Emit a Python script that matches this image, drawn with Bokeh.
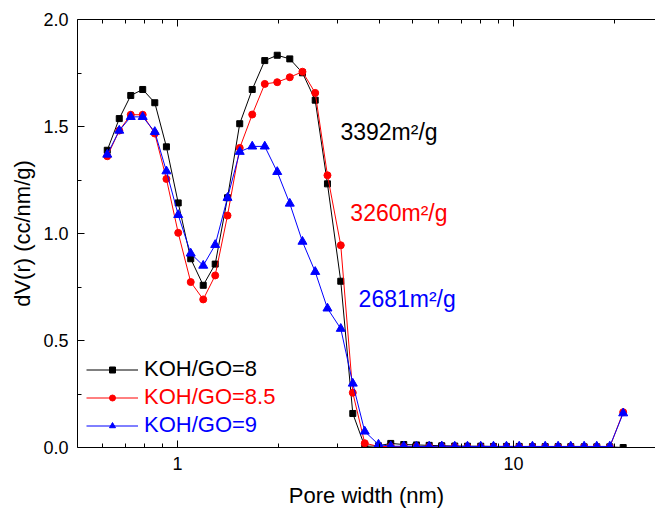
from bokeh.plotting import figure
from bokeh.models import (LogAxis, FixedTicker, Legend, LegendItem, Label,
                          NumeralTickFormatter, PrintfTickFormatter, ColumnDataSource)
from bokeh.embed import file_html
from bokeh.resources import INLINE

# ---------------- data ----------------
pore_width = [0.618, 0.671, 0.726, 0.788, 0.856, 0.927, 1.005, 1.095, 1.193, 1.295,
              1.409, 1.532, 1.669, 1.819, 1.981, 2.159, 2.355, 2.570, 2.795, 3.062,
              3.325, 3.609, 3.965, 4.313, 4.715, 5.144, 5.612, 6.118, 6.688, 7.297,
              7.991, 8.720, 9.532, 10.40, 11.39, 12.43, 13.58, 14.81, 16.23, 17.70,
              19.35, 21.21]

koh_8 = [1.389, 1.537, 1.645, 1.673, 1.611, 1.405, 1.143, 0.882, 0.758, 0.857,
         1.167, 1.513, 1.673, 1.808, 1.833, 1.816, 1.751, 1.623, 1.232, 0.777,
         0.159, 0.005, 0.008, 0.019, 0.014, 0.012, 0.010, 0.008, 0.007, 0.006,
         0.006, 0.005, 0.005, 0.005, 0.004, 0.004, 0.004, 0.004, 0.003, 0.003,
         0.003, 0.0]

koh_85 = [1.361, 1.481, 1.555, 1.555, 1.467, 1.255, 1.003, 0.773, 0.692, 0.804,
          1.084, 1.400, 1.556, 1.699, 1.707, 1.730, 1.756, 1.657, 1.272, 0.945,
          0.256, 0.020, 0.005, 0.004, 0.004, 0.003, 0.003, 0.003, 0.003, 0.002,
          0.002, 0.002, 0.002, 0.002, 0.002, 0.002, 0.002, 0.002, 0.002, 0.002,
          0.002, 0.165]

koh_9 = [1.369, 1.481, 1.545, 1.545, 1.475, 1.291, 1.087, 0.907, 0.850, 0.947,
         1.167, 1.382, 1.407, 1.407, 1.288, 1.140, 0.962, 0.821, 0.650, 0.555,
         0.299, 0.075, 0.014, 0.006, 0.006, 0.005, 0.005, 0.006, 0.005, 0.005,
         0.005, 0.005, 0.005, 0.005, 0.005, 0.005, 0.005, 0.005, 0.005, 0.005,
         0.005, 0.160]

series_labels = ["KOH/GO=8", "KOH/GO=8.5", "KOH/GO=9"]
series_colors = ["#000000", "#ff0000", "#0000ff"]
series_markers = ["square", "circle", "triangle"]
series_sizes = [6, 7, 9]

x_major_ticks = [1, 10]
x_minor_ticks = [0.6, 0.7, 0.8, 0.9, 2, 3, 4, 5, 6, 7, 8, 9, 20]
y_major_ticks = [0.0, 0.5, 1.0, 1.5, 2.0]
y_minor_ticks = [0.25, 0.75, 1.25, 1.75]

annot_texts = ["3392m\u00b2/g", "3260m\u00b2/g", "2681m\u00b2/g"]
annot_x = [3.055, 3.27, 3.46]
annot_y = [1.472, 1.098, 0.696]

FONT = "Liberation Sans"

# ---------------- figure ----------------
p = figure(width=655, height=510, x_axis_type="log",
           x_range=(0.504, 26.47), y_range=(0, 2.0),
           output_backend="svg", toolbar_location=None,
           min_border_left=77, min_border_right=0,
           min_border_top=19, min_border_bottom=62)
p.outline_line_color = None
p.xgrid.visible = False
p.ygrid.visible = False
p.background_fill_color = "white"
p.border_fill_color = "white"

xticker = FixedTicker(ticks=x_major_ticks, minor_ticks=x_minor_ticks)
yticker = FixedTicker(ticks=y_major_ticks, minor_ticks=y_minor_ticks)

def style_axis(ax):
    ax.axis_line_color = "black"
    ax.axis_line_width = 1
    ax.major_tick_line_color = "black"
    ax.minor_tick_line_color = "black"
    ax.major_tick_in = 7
    ax.major_tick_out = 0
    ax.minor_tick_in = 4
    ax.minor_tick_out = 0
    ax.major_label_text_font = FONT
    ax.major_label_text_font_size = "18px"
    ax.major_label_text_color = "black"
    ax.axis_label_text_font = FONT
    ax.axis_label_text_font_size = "22px"
    ax.axis_label_text_font_style = "normal"
    ax.axis_label_text_color = "black"

xa = p.xaxis[0]
xa.ticker = xticker
xa.formatter = PrintfTickFormatter(format="%d")
xa.axis_label = "Pore width (nm)"
style_axis(xa)
xa.major_label_standoff = 9
xa.axis_label_standoff = 10

ya = p.yaxis[0]
ya.ticker = yticker
ya.formatter = NumeralTickFormatter(format="0.0")
ya.axis_label = "dV(r) (cc/nm/g)"
style_axis(ya)
ya.major_label_standoff = 9
ya.axis_label_standoff = 5

top = LogAxis(ticker=xticker, formatter=PrintfTickFormatter(format="%d"))
style_axis(top)
top.major_label_text_font_size = "2px"
top.major_label_text_color = None
top.major_label_standoff = 0
p.add_layout(top, "above")

ys = [koh_8, koh_85, koh_9]
renderers = []
for lab, col, mk, sz, yv in zip(series_labels, series_colors, series_markers, series_sizes, ys):
    src = ColumnDataSource(dict(x=pore_width, y=yv))
    lr = p.line("x", "y", source=src, line_color=col, line_width=1)
    sr = p.scatter("x", "y", source=src, marker=mk, size=sz,
                   fill_color=col, line_color=col)
    renderers.append((lab, col, lr, sr))

leg_offsets = [64, 36, 8]
for (lab, col, lr, sr), off in zip(renderers, leg_offsets):
    leg = Legend(items=[LegendItem(label=lab, renderers=[lr, sr])],
                 location=(9, off), padding=0, margin=0, spacing=0,
                 glyph_width=52, glyph_height=15, label_height=28,
                 label_standoff=6, border_line_color=None,
                 background_fill_alpha=0,
                 label_text_font=FONT, label_text_font_size="22px",
                 label_text_color=col)
    p.add_layout(leg, "center")

for t, x, y, c in zip(annot_texts, annot_x, annot_y, series_colors):
    p.add_layout(Label(x=x, y=y, text=t, text_color=c, text_font=FONT,
                       text_font_size="23px", text_baseline="middle",
                       text_align="left"))

open("out.html", "w").write(file_html(p, INLINE))
